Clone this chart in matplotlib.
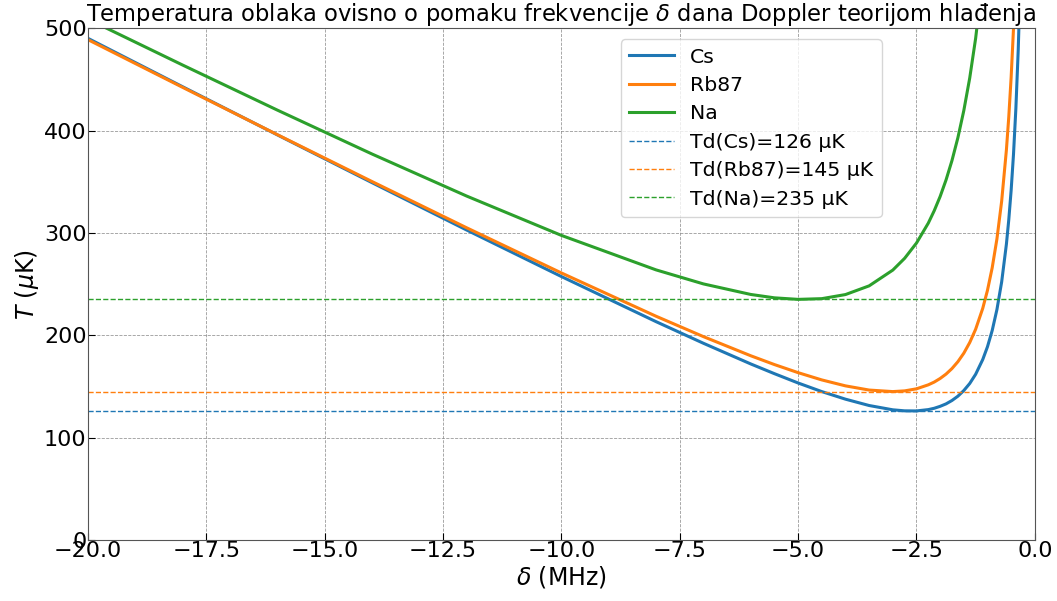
import matplotlib
matplotlib.use('Agg')
import matplotlib.pyplot as plt

# Doppler temperature curves (delta in MHz, T in uK)
delta = [-20, -18, -16, -14, -12, -10, -8, -7, -6, -5.5, -5, -4.5, -4, -3.5, -3,
         -2.75, -2.5, -2.25, -2.125, -2, -1.875, -1.75, -1.625, -1.5, -1.375, -1.25,
         -1.1, -1.0, -0.9, -0.8, -0.7, -0.6, -0.55, -0.5, -0.45, -0.4, -0.35, -0.3]

T_cs = [490.1, 442.8, 395.8, 349.1, 302.8, 257.4, 213.3, 192.2, 172.0, 162.5, 153.4,
        145.0, 137.6, 131.4, 127.2, 126.2, 126.1, 127.4, 128.7, 130.6, 133.0, 136.3,
        140.5, 146.0, 152.9, 161.9, 176.3, 188.8, 204.7, 225.2, 252.2, 289.0, 312.8,
        341.5, 376.9, 421.5, 479.1, 556.4]

T_rb = [488.8, 442.2, 396.0, 350.2, 305.0, 260.9, 218.6, 198.7, 180.0, 171.4, 163.5,
        156.4, 150.6, 146.5, 145.0, 145.7, 147.7, 151.6, 154.3, 157.8, 162.1, 167.5,
        174.2, 182.5, 192.9, 205.9, 226.3, 243.9, 266.0, 294.2, 331.1, 381.1, 413.2,
        452.0, 499.7, 559.7, 637.1, 740.6]

T_na = [508.8, 464.0, 420.0, 377.1, 336.0, 297.6, 263.9, 250.2, 239.9, 236.6, 235.1,
        235.8, 239.8, 248.3, 263.7, 275.2, 290.1, 309.6, 321.7, 335.6, 351.8, 370.7,
        393.0, 419.5, 451.3, 490.1, 549.3, 599.2, 660.7, 738.2, 838.5, 973.0, 1059.0,
        1162.3, 1288.9, 1447.5, 1651.7, 1924.4]

names = ['Cs', 'Rb87', 'Na']
Td = [126, 145, 235]
colors = ['#1f77b4', '#ff7f0e', '#2ca02c']

fig, ax = plt.subplots(figsize=(10.57, 6.01), dpi=100)
fig.subplots_adjust(left=0.0833, right=0.979, bottom=0.1015, top=0.953)

for T, name, c in zip([T_cs, T_rb, T_na], names, colors):
    ax.plot(delta, T, color=c, lw=2.2, label=name)
for td, name, c in zip(Td, names, colors):
    ax.axhline(td, color=c, ls='--', lw=1.0, label='Td(%s)=%d µK' % (name, td))

ax.set_xlim(-20, 0)
ax.set_ylim(0, 500)
ax.grid(True, color='gray', ls='--', lw=0.6, alpha=0.8)
ax.tick_params(direction='in', labelsize=16, pad=1, length=5)
for s in ax.spines.values():
    s.set_color('#555555')

ax.set_xlabel(r'$\delta$ (MHz)', fontsize=17, labelpad=2)
ax.set_ylabel(r'$T$ ($\mu$K)', fontsize=17, labelpad=2)
ax.set_title(r'Temperatura oblaka ovisno o pomaku frekvencije $\delta$ dana Doppler teorijom hlađenja',
             fontsize=16.3, pad=2)

ax.legend(loc='upper left', bbox_to_anchor=(0.552, 0.998), fontsize=14.7, framealpha=0.8,
          handlelength=2.2, labelspacing=0.46)

fig.savefig('out.png', dpi=100)
